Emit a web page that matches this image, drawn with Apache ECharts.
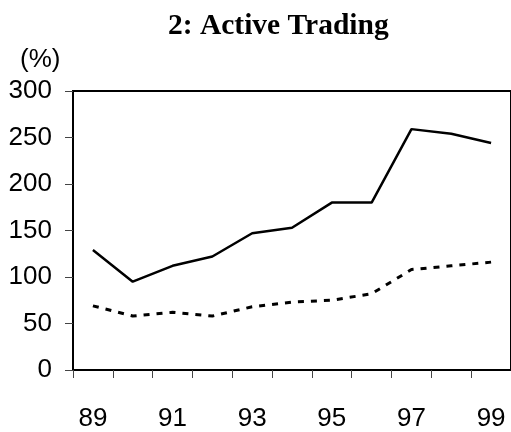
<!DOCTYPE html>
<html>
<head>
<meta charset="utf-8">
<script src="https://cdn.jsdelivr.net/npm/echarts@6/dist/echarts.min.js"></script>
<style>
  html, body { margin: 0; padding: 0; background: #fff; }
  #main { width: 511px; height: 432px; }
</style>
</head>
<body>
<div id="main"></div>
<script>
const years = ['89', '90', '91', '92', '93', '94', '95', '96', '97', '98', '99'];
const solidValues = [129, 95, 112, 122, 147, 153, 180, 180, 259, 254, 244];
const dashedValues = [69, 58, 62, 58, 68, 73, 75, 82, 108, 112, 116];

const chartDom = document.getElementById('main');
const myChart = echarts.init(chartDom);

const option = {
  animation: false,
  backgroundColor: '#fff',
  title: {
    text: '2: Active Trading',
    left: 163,
    top: 6,
    textStyle: {
      fontFamily: 'Liberation Serif',
      fontWeight: 'bold',
      fontSize: 29.5,
      color: '#000'
    }
  },
  graphic: [
    {
      type: 'text',
      left: 20,
      top: 47,
      style: {
        text: '(%)',
        fontFamily: 'Liberation Sans',
        fontSize: 26,
        fill: '#000'
      }
    }
  ],
  grid: {
    left: 73,
    top: 91,
    right: -2,
    bottom: 60,
    show: true,
    borderColor: '#000',
    borderWidth: 2
  },
  xAxis: {
    type: 'category',
    data: years,
    axisLine: { lineStyle: { color: '#000', width: 2 } },
    axisTick: { show: true, length: 8, interval: 0, lineStyle: { color: '#444', width: 1 } },
    axisLabel: {
      interval: 1,
      margin: 36,
      fontFamily: 'Liberation Sans',
      fontSize: 26,
      color: '#000'
    },
    splitLine: { show: false }
  },
  yAxis: {
    type: 'value',
    min: 0,
    max: 300,
    interval: 50,
    axisLine: { show: true, lineStyle: { color: '#000', width: 2 } },
    axisTick: { show: true, length: 8, lineStyle: { color: '#444', width: 1 } },
    axisLabel: {
      margin: 21,
      fontFamily: 'Liberation Sans',
      fontSize: 26,
      color: '#000'
    },
    splitLine: { show: false }
  },
  series: [
    {
      type: 'line',
      data: solidValues,
      symbol: 'none',
      lineStyle: { color: '#000', width: 2.5 }
    },
    {
      type: 'line',
      data: dashedValues,
      symbol: 'none',
      lineStyle: { color: '#000', width: 3, type: [6, 7] }
    }
  ]
};

myChart.setOption(option);
</script>
</body>
</html>
